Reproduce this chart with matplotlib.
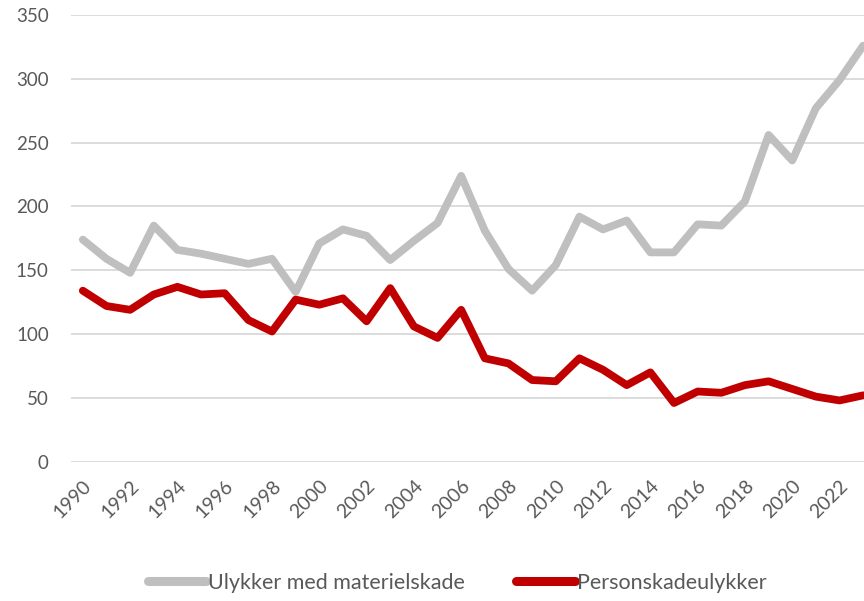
import matplotlib.pyplot as plt
import numpy as np

# Data
years = np.arange(1990, 2024)
materielskade = [174, 159, 148, 185, 166, 163, 159, 155, 159, 133,
                 171, 182, 177, 158, 173, 187, 224, 181, 151, 134,
                 154, 192, 182, 189, 164, 164, 186, 185, 204, 256,
                 236, 277, 299, 326]
personskade = [134, 122, 119, 131, 137, 131, 132, 111, 102, 127,
               123, 128, 110, 136, 106, 97, 119, 81, 77, 64,
               63, 81, 72, 60, 70, 46, 55, 54, 60, 63,
               57, 51, 48, 52]
tick_years = list(range(1990, 2023, 2))

plt.rcParams['font.family'] = ['Lato', 'DejaVu Sans']

fig = plt.figure(figsize=(8.64, 6.01), dpi=100)
# the original is cropped on the right, so the axes run past the figure edge
ax = fig.add_axes([71 / 864, 1 - 461.7 / 601, (875 - 71) / 864, (461.7 - 15) / 601])

ax.plot(years, materielskade, color='#BFBFBF', lw=5.6, solid_joinstyle='round',
        solid_capstyle='round', label='Ulykker med materielskade', zorder=3)
ax.plot(years, personskade, color='#C00000', lw=5.6, solid_joinstyle='round',
        solid_capstyle='round', label='Personskadeulykker', zorder=3)

ax.set_xlim(1989.5, 2023.5)
ax.set_ylim(0, 350)
ax.set_yticks(range(0, 351, 50))
ax.set_xticks(tick_years)
ax.set_xticklabels([str(y) for y in tick_years], rotation=45, ha='right',
                   rotation_mode='anchor')
ax.grid(axis='y', color='#D9D9D9', lw=1.3, zorder=0)
ax.set_axisbelow(True)
for s in ax.spines.values():
    s.set_visible(False)
ax.tick_params(axis='both', length=0, labelcolor='#595959')
ax.tick_params(axis='y', labelsize=13.5, pad=16)
ax.tick_params(axis='x', labelsize=14, pad=11)

leg = fig.legend(loc='center', bbox_to_anchor=(457 / 864, 1 - 583 / 601), ncol=2,
                 frameon=False, fontsize=15.5, handlelength=2.7,
                 handletextpad=0.1, columnspacing=2.4)
for t in leg.get_texts():
    t.set_color('#595959')
for h in leg.legend_handles:
    h.set_linewidth(6.5)

fig.savefig('out.png', dpi=100)
